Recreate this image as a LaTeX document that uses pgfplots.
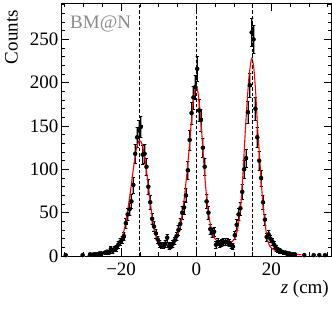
\documentclass[border=0pt]{standalone}
\usepackage{fontspec}
\setmainfont{Liberation Serif}
\usepackage{pgfplots}
\usepackage{pgfplotstable}
\pgfplotsset{compat=1.18}

% measured counts per 0.5 cm bin: z, counts, stat. error
\pgfplotstableread{
z c e
-34.75 1 1
-30.25 1 1
-28.25 2 1.41
-27.25 2 1.41
-26.75 2 1.41
-26.25 2 1.41
-25.75 3 1.73
-25.25 3 1.73
-24.25 4 2
-23.75 5 2.24
-23.25 4 2
-22.75 8 2.83
-22.25 6 2.45
-21.75 8 2.83
-21.25 9 3
-20.75 13 3.61
-20.25 16 4
-19.75 19 4.36
-19.25 23 4.8
-18.75 38 6.16
-18.25 48 6.93
-17.75 54 7.35
-17.25 63 7.94
-16.75 82 9.06
-16.25 118 10.86
-15.75 137 11.7
-15.25 145 12.04
-14.75 149 12.21
-14.25 117 10.82
-13.75 118 10.86
-13.25 103 10.15
-12.75 80 8.94
-12.25 62 7.87
-11.75 43 6.56
-11.25 34 5.83
-10.75 26 5.1
-10.25 19 4.36
-9.75 14 3.74
-9.25 12 3.46
-8.75 12 3.46
-8.25 14 3.74
-7.75 21 4.58
-7.25 11 3.32
-6.75 12 3.46
-6.25 14 3.74
-5.75 18 4.24
-5.25 23 4.8
-4.75 30 5.48
-4.25 37 6.08
-3.75 50 7.07
-3.25 56 7.48
-2.75 70 8.37
-2.25 99 9.95
-1.75 134 11.58
-1.25 165 12.85
-0.75 183 13.53
-0.25 195 13.96
0.25 216 14.7
0.75 168 12.96
1.25 157 12.53
1.75 125 11.18
2.25 103 10.15
2.75 63 7.94
3.25 50 7.07
3.75 31 5.57
4.25 27 5.2
4.75 28 5.29
5.25 13 3.61
5.75 16 4
6.25 14 3.74
6.75 15 3.87
7.25 16 4
7.75 16 4
8.25 16 4
8.75 15 3.87
9.25 13 3.61
9.75 11 3.32
10.25 24 4.9
10.75 36 6
11.25 48 6.93
11.75 55 7.42
12.25 74 8.6
12.75 100 10
13.25 113 10.63
13.75 166 12.88
14.25 197 14.04
14.75 258 16.06
15.25 250 15.81
15.75 170 13.04
16.25 137 11.7
16.75 110 10.49
17.25 90 9.49
17.75 62 7.87
18.25 42 6.48
18.75 22 4.69
19.25 25 5
19.75 20 4.47
20.25 17 4.12
20.75 13 3.61
21.25 9 3
21.75 7 2.65
22.25 6 2.45
22.75 5 2.24
23.25 4 2
23.75 4 2
24.25 3 1.73
24.75 3 1.73
25.25 2 1.41
25.75 2 1.41
26.25 2 1.41
28.75 1 1
31.25 1 1
32.75 1 1
34.25 1 1
}\datatab

% fitted curve (three peaks)
\pgfplotstableread{
z f
-29 0.3
-28 0.6
-27 1.0
-26 1.5
-25 2.2
-24 3.2
-23 4.7
-22 7
-21.5 9
-21 11.5
-20.5 14.5
-20 19
-19.5 25
-19 34
-18.5 46
-18 60
-17.5 75
-17 92
-16.5 108
-16 122
-15.5 130
-15 133
-14.5 130
-14 121
-13.5 107
-13 90
-12.5 72
-12 54
-11.5 39
-11 28
-10.5 21
-10 17
-9.5 15
-9 14
-8.5 13.2
-8 12.8
-7.5 12.7
-7 13.2
-6.5 14.5
-6 16.5
-5.5 19.5
-5 24
-4.5 30
-4 40
-3.5 55
-3 74
-2.5 95
-2 118
-1.5 145
-1 170
-0.5 189
0 196
0.5 188
1 168
1.5 140
2 108
2.5 80
3 59
3.5 43
4 31
4.5 24
5 20
5.5 17.5
6 16
6.5 15.2
7 14.8
7.5 14.7
8 14.8
8.5 15.1
9 15.5
9.5 16.5
10 18.5
10.5 23
11 31
11.5 45
12 66
12.5 100
13 140
13.5 175
14 205
14.5 223
14.8 228
15.3 218
15.8 190
16.3 150
16.8 118
17.3 85
17.8 58
18.3 38
18.8 22
19.3 14
19.8 10
20.5 7.5
21.5 6
22.5 5
24 3.8
26 2.4
28 1.5
}\fittab

\begin{document}
\fontsize{19}{22}\selectfont
\begin{tikzpicture}
\begin{axis}[
    scale only axis, width=270.5pt, height=253pt,
    xmin=-36, xmax=36, ymin=0, ymax=292,
    xtick={-20,0,20}, xticklabels={−20,0,20},
    minor xtick={-35,-30,...,35},
    ytick={0,50,...,250}, yticklabels={0,50,100,150,200,250},
    minor ytick={10,20,...,290},
    tick align=inside, tick pos=both,
    major tick length=8pt, minor tick length=4pt,
    axis line style={line width=0.8pt},
    every tick/.style={black, line width=0.6pt},
    xticklabel style={anchor=base, yshift=-19pt, inner sep=0pt},
    yticklabel style={anchor=east, inner sep=0pt, xshift=-2.5pt},
]
% grey band behind the points
\addplot[only marks, mark=none, draw=none,
    error bars/.cd, y dir=both, y explicit,
    error bar style={black!35, line width=2pt}]
    table[x=z, y=c, y error=e] {\datatab};
% data
\addplot[only marks, mark=*, mark size=1.5pt, black,
    error bars/.cd, y dir=both, y explicit, x dir=both, x fixed=0.25,
    error bar style={black, line width=0.7pt}]
    table[x=z, y=c, y error=e] {\datatab};
% fit
\addplot[red, line width=1.1pt, smooth, tension=0.45] table[x=z, y=f] {\fittab};
% target positions
\addplot[black, line width=0.8pt, dash pattern=on 3.5pt off 2pt] coordinates {(-15,0) (-15,292)};
\addplot[black, line width=0.8pt, dash pattern=on 3.5pt off 2pt] coordinates {(0,0) (0,292)};
\addplot[black, line width=0.8pt, dash pattern=on 3.5pt off 2pt] coordinates {(15,0) (15,292)};
\end{axis}
\node[anchor=north west, inner sep=0pt, text=black!45] at ([shift={(9pt,-13pt)}]current axis.north west) {BM@N};
\node[rotate=90, anchor=south east, inner sep=0pt] at ([shift={(-43pt,-7pt)}]current axis.north west) {Counts};
\node[anchor=base east, inner sep=0pt] at ([shift={(-2.5pt,-37pt)}]current axis.south east) {\textit{z} (cm)};
\path ([shift={(-61pt,-64pt)}]current axis.south west) rectangle ([shift={(0.5pt,3pt)}]current axis.north east);
\end{tikzpicture}
\end{document}
